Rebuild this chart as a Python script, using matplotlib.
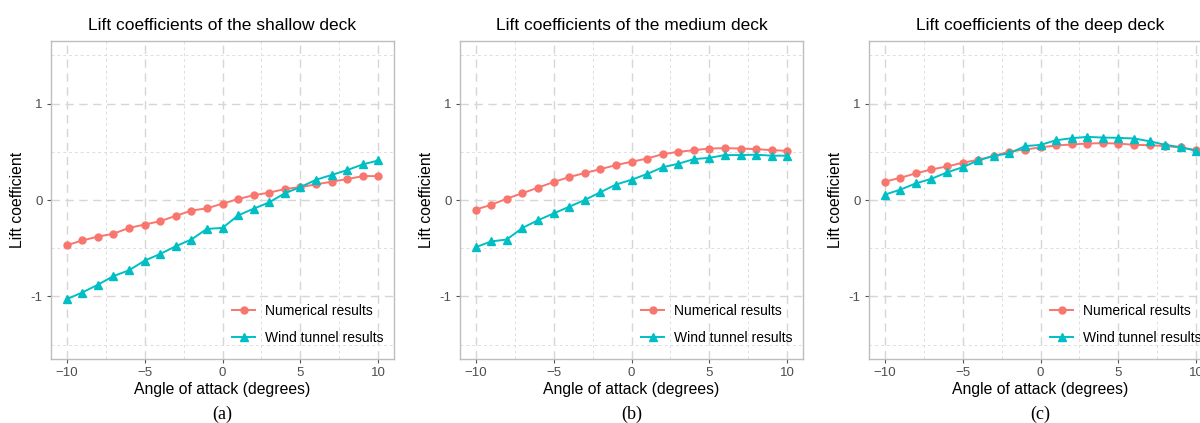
import numpy as np
import matplotlib
matplotlib.use("Agg")
import matplotlib.pyplot as plt
from matplotlib.ticker import MultipleLocator

plt.rcParams['font.family'] = ['Liberation Sans', 'DejaVu Sans']

# angle of attack (degrees)
angle = list(range(-10, 11))

# shallow deck
num_shallow = [-0.47, -0.42, -0.38, -0.35, -0.29, -0.255, -0.22, -0.165, -0.11, -0.086, -0.038,
               0.01, 0.05, 0.076, 0.114, 0.134, 0.162, 0.19, 0.217, 0.248, 0.248]
wt_shallow = [-1.03, -0.96, -0.88, -0.79, -0.73, -0.63, -0.56, -0.48, -0.41, -0.30, -0.29,
              -0.16, -0.09, -0.024, 0.07, 0.134, 0.21, 0.26, 0.31, 0.37, 0.41]

# medium deck
num_medium = [-0.10, -0.05, 0.014, 0.07, 0.128, 0.186, 0.238, 0.28, 0.32, 0.362, 0.397,
              0.43, 0.476, 0.50, 0.517, 0.534, 0.538, 0.534, 0.528, 0.517, 0.51]
wt_medium = [-0.49, -0.43, -0.41, -0.29, -0.21, -0.14, -0.07, 0.0, 0.08, 0.16, 0.21,
             0.27, 0.34, 0.376, 0.424, 0.438, 0.466, 0.466, 0.47, 0.46, 0.46]

# deep deck
num_deep = [0.19, 0.23, 0.276, 0.317, 0.348, 0.386, 0.417, 0.455, 0.503, 0.524, 0.545,
            0.566, 0.576, 0.586, 0.59, 0.586, 0.572, 0.569, 0.559, 0.545, 0.517]
wt_deep = [0.055, 0.107, 0.172, 0.22, 0.286, 0.34, 0.41, 0.459, 0.483, 0.559, 0.572,
           0.62, 0.641, 0.655, 0.648, 0.645, 0.638, 0.61, 0.572, 0.548, 0.51]

titles = ["Lift coefficients of the shallow deck",
          "Lift coefficients of the medium deck",
          "Lift coefficients of the deep deck"]
tags = ["(a)", "(b)", "(c)"]
numerical = [num_shallow, num_medium, num_deep]
wind_tunnel = [wt_shallow, wt_medium, wt_deep]

RED = "#F8766D"
TEAL = "#00BFC4"

fig = plt.figure(figsize=(12, 4.23), dpi=100)
lefts = [51 / 1200, 460 / 1200, 869 / 1200]
bottom = 1 - 359 / 423
height = (359 - 41) / 423
width = 343 / 1200

for i in range(3):
    ax = fig.add_axes([lefts[i], bottom, width, height])
    ax.plot(angle, numerical[i], color=RED, lw=1.4, marker="o", ms=5,
            label="Numerical results", zorder=3)
    ax.plot(angle, wind_tunnel[i], color=TEAL, lw=1.4, marker="^", ms=6,
            label="Wind tunnel results", zorder=3)

    ax.set_xlim(-11, 11)
    ax.set_ylim(-1.65, 1.65)
    ax.xaxis.set_minor_locator(MultipleLocator(2.5))
    ax.yaxis.set_minor_locator(MultipleLocator(0.5))
    ax.set_xticks([-10, -5, 0, 5, 10])
    ax.set_xticklabels(["\u221210", "\u22125", "0", "5", "10"])
    ax.set_yticks([-1, 0, 1])
    ax.set_yticklabels(["-1", "0", "1"])

    ax.grid(which="major", color="#d6d6d6", lw=1.0, ls=(0, (6, 4)))
    ax.grid(which="minor", color="#dedede", lw=0.7, ls=(0, (3, 3)))
    ax.set_axisbelow(True)
    for s in ax.spines.values():
        s.set_color("#bdbdbd")
        s.set_linewidth(1.0)
    ax.tick_params(which="major", length=3, width=0.8, color="#555555",
                   labelsize=9.5, labelcolor="#4d4d4d", pad=3)
    ax.tick_params(which="minor", length=0)

    ax.set_title(titles[i], fontsize=12.5, pad=8)
    ax.set_xlabel("Angle of attack (degrees)", fontsize=11.3, labelpad=2)
    ax.set_ylabel("Lift coefficient", fontsize=11.3, labelpad=4)

    # panel tag under each plot
    cx = lefts[i] + width / 2
    fig.text(cx, 1 - 414 / 423, tags[i], ha="center", va="center",
             fontsize=13, family=["Liberation Serif", "DejaVu Serif"])

    ax.legend(loc="lower right", frameon=False, fontsize=10, handlelength=1.6,
              labelspacing=0.9, handletextpad=0.75, borderaxespad=0.35,
              bbox_to_anchor=(1.0, 0.012))

fig.savefig("out.png", dpi=100)
